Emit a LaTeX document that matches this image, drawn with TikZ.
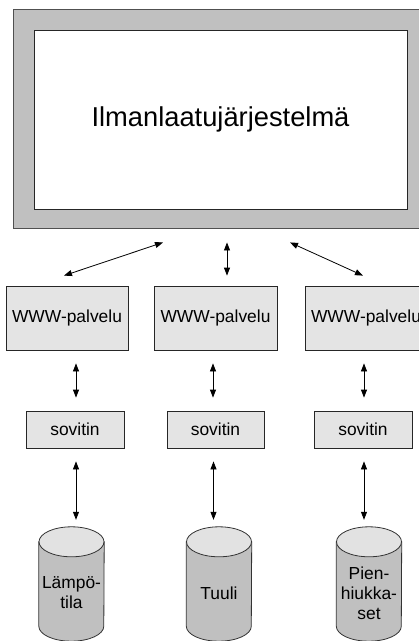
\documentclass[tikz,border=0pt]{standalone}
\usepackage{fontspec}
\setmainfont{Liberation Sans}
\usetikzlibrary{arrows.meta}
\pgfdeclarelayer{background}
\pgfsetlayers{background,main}
\definecolor{framegray}{HTML}{C0C0C0}
\definecolor{edgegray}{HTML}{505050}
\definecolor{boxgray}{HTML}{E4E4E4}
\definecolor{dbbody}{HTML}{C0C0C0}
\definecolor{dbtop}{HTML}{E2E2E2}
\tikzset{
  x=1pt, y=1pt,
  txt/.style={font=\fontsize{17.4}{20}\selectfont, align=center},
  outerframe/.style={draw=edgegray, fill=framegray, line width=0.9pt, minimum width=415pt, minimum height=219pt, inner sep=0pt},
  innerframe/.style={draw=black!85, fill=white, line width=0.9pt, minimum width=373pt, minimum height=179pt, inner sep=0pt, font=\fontsize{27.3}{30}\selectfont},
  service/.style={draw=black!85, fill=boxgray, line width=0.8pt, minimum height=64pt, inner sep=0pt, txt},
  adapter/.style={draw=black!85, fill=boxgray, line width=0.8pt, minimum width=98pt, minimum height=37pt, inner sep=0pt, txt},
  dbnode/.style={minimum width=65pt, minimum height=114pt, inner sep=0pt},
  dbtext/.style={txt, inner sep=0pt},
  cyl/.style={draw=black!80, line width=0.8pt},
  link/.style={{Triangle[length=8pt,width=6pt]}-{Triangle[length=8pt,width=6pt]}, line width=0.8pt, black}
}
\begin{document}
\begin{tikzpicture}
\useasboundingbox (0,0) rectangle (419,-641);
\clip (0,0) rectangle (419,-641);

% system frame
\node[outerframe] (sysout) at (220.5,-118.5) {};
\node[innerframe] (sys) at (220.5,-119.5) {Ilmanlaatujärjestelmä};

% web services
\node[service, minimum width=122pt] (www1) at (67,-318) {WWW-palvelu};
\node[service, minimum width=123pt] (www2) at (215.5,-318) {WWW-palvelu};
\node[service, minimum width=122pt] (www3) at (366,-318) {WWW-palvelu};

% adapters
\node[adapter] (sov1) at (75,-429.5) {sovitin};
\node[adapter, minimum width=97pt] (sov2) at (215.5,-429.5) {sovitin};
\node[adapter] (sov3) at (363,-429.5) {sovitin};

% data stores
\node[dbnode] (db1) at (71.5,-584) {};
\node[dbnode] (db2) at (219,-584) {};
\node[dbnode] (db3) at (369,-584) {};
\node[dbtext] (db1t) at ([yshift=-9pt]db1.center) {Lämpö-\\tila};
\node[dbtext] (db2t) at ([yshift=-9pt]db2.center) {Tuuli};
\node[dbtext] (db3t) at ([yshift=-9pt]db3.center) {Pien-\\hiukka-\\set};

\begin{pgfonlayer}{background}
\foreach \d in {db1,db2,db3}{
  \filldraw[cyl, fill=dbbody] ([yshift=-15pt]\d.north west) -- ([yshift=15pt]\d.south west)
    arc[start angle=180, end angle=360, x radius=32.5pt, y radius=15pt]
    -- ([yshift=-15pt]\d.north east) -- cycle;
  \filldraw[cyl, fill=dbtop] ([yshift=-15pt]\d.north) ellipse [x radius=32.5pt, y radius=15pt];
}
\end{pgfonlayer}

% system <-> services
\draw[link] ([xshift=-57.5pt, yshift=-14pt]sysout.south) -- ([xshift=-3pt, yshift=10pt]www1.north);
\draw[link] ([xshift=6.5pt, yshift=-14pt]sysout.south) -- ([xshift=11.5pt, yshift=10pt]www2.north);
\draw[link] ([xshift=69.5pt, yshift=-14pt]sysout.south) -- ([xshift=-3pt, yshift=10pt]www3.north);

% services <-> adapters
\draw[link] ([xshift=9pt, yshift=-13pt]www1.south) -- ([xshift=1pt, yshift=13pt]sov1.north);
\draw[link] ([xshift=-2.5pt, yshift=-13pt]www2.south) -- ([xshift=-2.5pt, yshift=13pt]sov2.north);
\draw[link] ([xshift=-2pt, yshift=-13pt]www3.south) -- ([xshift=1pt, yshift=13pt]sov3.north);

% adapters <-> data stores
\draw[link] ([xshift=1pt, yshift=-13pt]sov1.south) -- ([xshift=4.5pt, yshift=7pt]db1.north);
\draw[link] ([xshift=-2pt, yshift=-13pt]sov2.south) -- ([xshift=-5.5pt, yshift=7pt]db2.north);
\draw[link] ([xshift=1pt, yshift=-13pt]sov3.south) -- ([xshift=-5pt, yshift=7pt]db3.north);
\end{tikzpicture}
\end{document}
